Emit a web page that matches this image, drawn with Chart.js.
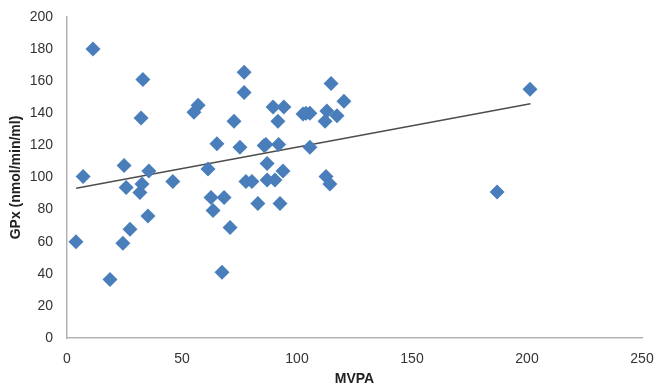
<!DOCTYPE html>
<html>
<head>
<meta charset="utf-8">
<script src="https://cdn.jsdelivr.net/npm/chart.js@4/dist/chart.umd.min.js"></script>
<style>
  html, body { margin: 0; padding: 0; background: #fff; }
  #chart { display: block; }
</style>
</head>
<body>
<canvas id="chart" width="654" height="388"></canvas>
<script>
// MVPA vs GPx
const mvpa = [3.9, 7, 11.3, 18.7, 24.3, 24.8, 25.7, 27.4, 31.7, 32.2, 32.6, 33, 35.2, 35.6,
  46, 55.2, 57, 61.3, 62.6, 63.5, 65.2, 67.4, 68.3, 70.9, 72.6, 75.2, 77, 77, 77.8, 80.4,
  83, 85.7, 86.5, 87, 87, 89.6, 90.4, 91.7, 92, 92.6, 93.9, 94.3, 102.6, 103.9, 105.6,
  105.6, 112.2, 112.6, 113, 114.3, 114.8, 117.4, 120.4, 187, 201.3]
const gpx = [60, 100.6, 180, 36.5, 59, 107.5, 93.8, 67.7, 90.6, 137, 96, 161, 76, 104,
  97.5, 140.6, 145, 105.3, 87.5, 79.4, 121, 41, 87.5, 68.8, 135, 118.8, 165.6, 153, 97.5, 97.5,
  83.8, 120, 120.5, 108.8, 98.5, 144, 98.5, 135, 120.6, 83.8, 104, 144, 139.5, 140, 140,
  118.8, 135, 100.6, 141.5, 96, 158.5, 138.5, 147.5, 91, 155]

// linear trend line end points (as drawn)
const trendX = [4, 201.5]
const trendY = [93.3, 146]

const points = mvpa.map((x, i) => ({ x: x, y: gpx[i] }))
const trend = trendX.map((x, i) => ({ x: x, y: trendY[i] }))

const tickFont = { family: "'Liberation Sans', Arial, sans-serif", size: 14 }
const titleFont = { family: "'Liberation Sans', Arial, sans-serif", size: 14, weight: "bold" }

const ctx = document.getElementById("chart").getContext("2d")
new Chart(ctx, {
  type: "scatter",
  data: {
    datasets: [
      {
        data: points,
        pointStyle: "rectRot",
        pointRadius: 7.5,
        pointHoverRadius: 7.5,
        backgroundColor: "#4a7ebb",
        borderColor: "#4a7ebb",
        borderWidth: 0,
        order: 1
      },
      {
        type: "line",
        data: trend,
        borderColor: "#4d4d4d",
        borderWidth: 1.5,
        pointRadius: 0,
        fill: false,
        order: 2
      }
    ]
  },
  options: {
    responsive: false,
    animation: false,
    layout: { padding: { left: 0, right: 0, top: 17, bottom: 0 } },
    plugins: { legend: { display: false }, tooltip: { enabled: false } },
    scales: {
      x: {
        type: "linear",
        min: 0,
        max: 250,
        afterFit: (s) => { s.height = 50; s.paddingRight = 12 },
        grid: { display: false, drawTicks: false },
        border: { display: true, color: "#b3b3b3", width: 1.5 },
        ticks: { stepSize: 50, color: "#333", font: tickFont, padding: 13, maxRotation: 0 },
        title: { display: true, text: "MVPA", color: "#222", font: titleFont, padding: { top: 0, bottom: 0 } }
      },
      y: {
        min: 0,
        max: 200,
        afterFit: (s) => { s.width = 67; s.paddingTop = 0 },
        grid: { display: false, drawTicks: false },
        border: { display: true, color: "#b3b3b3", width: 1.5 },
        ticks: { stepSize: 20, color: "#333", font: tickFont, padding: 14 },
        title: { display: true, text: "GPx (nmol/min/ml)", color: "#222", font: titleFont, padding: { top: 8, bottom: 0 } }
      }
    }
  }
})
</script>
</body>
</html>
